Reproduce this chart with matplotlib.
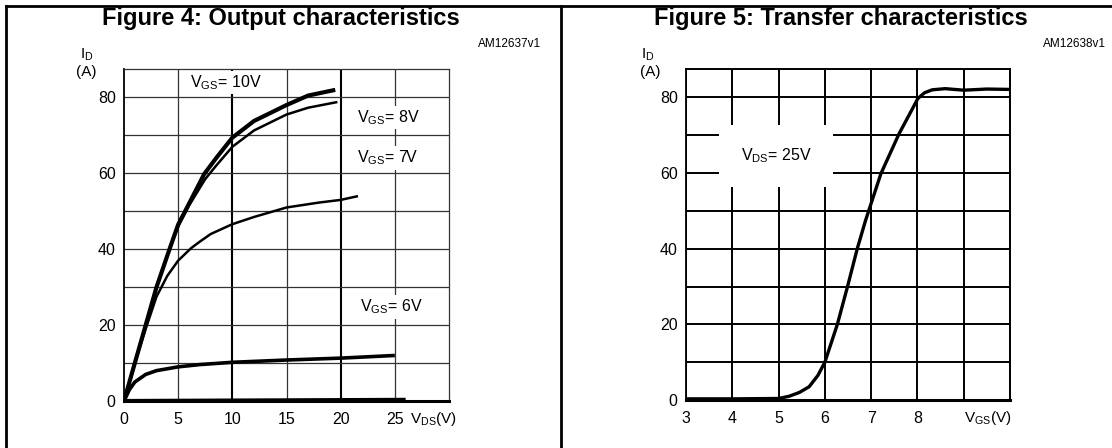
import numpy as np
import matplotlib
matplotlib.use("Agg")
import matplotlib.pyplot as plt
from matplotlib.lines import Line2D

plt.rcParams['font.family'] = ['Liberation Sans', 'DejaVu Sans']
plt.rcParams['mathtext.fontset'] = 'custom'
plt.rcParams['mathtext.rm'] = 'Liberation Sans'

# Figure 4: output characteristics, ID (A) against VDS (V)
vds_10 = [0, 1, 2, 3, 4.2, 5, 6, 7.4, 8.5, 10, 12, 15, 17, 19.5]
id_10 = [0, 10, 20, 30, 40, 46.5, 52, 59.8, 64, 69.4, 73.8, 78, 80.5, 82]
vds_8 = [0, 1, 2, 3, 4.2, 5, 6, 7.5, 8.5, 10, 12, 15, 17, 19.7]
id_8 = [0, 10, 20, 30, 40, 46, 51.5, 58.5, 62, 67, 71.3, 75.5, 77.3, 78.8]
vds_7 = [0, 1, 2, 3, 4, 5, 6.2, 7, 8, 10, 12, 15, 18, 20, 21.6]
id_7 = [0, 10, 19, 27.5, 33, 37, 40.3, 42, 44, 46.6, 48.5, 51, 52.3, 53, 54]
vds_6 = [0, 0.5, 1, 2, 3, 5, 7, 10, 15, 20, 25]
id_6 = [0, 3, 5, 7, 8, 9, 9.6, 10.2, 10.8, 11.3, 12]
vds_5 = [0, 26]
id_5 = [0, 0.3]

out_xticks = [0, 5, 10, 15, 20, 25]
out_labels = ["V$_{\\mathregular{GS}}$= 10V", "V$_{\\mathregular{GS}}$= 8V",
              "V$_{\\mathregular{GS}}$= 7V", "V$_{\\mathregular{GS}}$= 6V"]

# Figure 5: transfer characteristics, ID (A) against VGS (V) at VDS = 25 V
vgs = [3, 4, 5, 5.23, 5.45, 5.66, 5.85, 6.0, 6.27, 6.49, 6.7, 6.88, 7.21, 7.6,
       8.01, 8.15, 8.32, 8.6, 9.0, 9.5, 10]
id_t = [0.3, 0.3, 0.4, 1.0, 2.0, 3.5, 6.5, 10, 20, 30, 40, 47.5, 59.8, 70.3,
        79.7, 81.2, 82.0, 82.3, 81.9, 82.2, 82.1]
tr_xticks = [3, 4, 5, 6, 7, 8]

W, H = 1112, 448
fig = plt.figure(figsize=(W / 100, H / 100), dpi=100)

def fx(px):
    return px / W

def fy(py):
    return 1 - py / H

# table frame around the two figures
for seg in [((6, 1112), (6, 6)), ((6, 6), (6, 448)), ((561, 561), (6, 448))]:
    fig.add_artist(Line2D([fx(seg[0][0]), fx(seg[0][1])],
                          [fy(seg[1][0]), fy(seg[1][1])], color='black', lw=2.0))

fig.text(fx(281), fy(18), "Figure 4: Output characteristics", ha='center', va='center',
         fontsize=17, fontweight='bold')
fig.text(fx(841), fy(18), "Figure 5: Transfer characteristics", ha='center', va='center',
         fontsize=17, fontweight='bold')
fig.text(fx(541), fy(44), "AM12637v1", ha='right', va='center', fontsize=8.5)
fig.text(fx(1106), fy(44), "AM12638v1", ha='right', va='center', fontsize=8.5)

ax1 = fig.add_axes([fx(124), fy(401), 325 / W, 332 / H])
ax2 = fig.add_axes([fx(686), fy(400), 324 / W, 331 / H])

def style(ax, xlim, xmajor, gcol, glw):
    ax.set_xlim(*xlim)
    ax.set_ylim(0, 87.5)
    ax.set_xticks(xmajor)
    ax.set_yticks([0, 20, 40, 60, 80])
    ax.set_yticks(np.arange(10, 71, 20), minor=True)
    ax.grid(True, which='both', axis='y', color=gcol, lw=glw, zorder=0)
    ax.tick_params(which='both', length=0, labelsize=11.5)
    ax.tick_params(axis='y', pad=6)
    ax.tick_params(axis='x', pad=8)
    for s in ['top', 'right']:
        ax.spines[s].set_color(gcol)
        ax.spines[s].set_linewidth(glw)
    ax.spines['left'].set_linewidth(1.3)
    ax.spines['bottom'].set_linewidth(2.2)
    ax.set_axisbelow(True)

# left chart
style(ax1, (0, 30), [0, 5, 10, 15, 20, 25, 30], '#333333', 0.9)
for v in [5, 15, 25]:
    ax1.axvline(v, color='#333333', lw=0.9, zorder=0)
for v in [10, 20]:
    ax1.axvline(v, color='black', lw=1.5, zorder=0)
ax1.set_xticklabels([str(v) for v in out_xticks] + [""])
ax1.plot(vds_10, id_10, color='black', lw=3.0, solid_capstyle='butt', zorder=3)
ax1.plot(vds_8, id_8, color='black', lw=1.8, solid_capstyle='butt', zorder=3)
ax1.plot(vds_7, id_7, color='black', lw=1.8, solid_capstyle='butt', zorder=3)
ax1.plot(vds_6, id_6, color='black', lw=2.6, solid_capstyle='butt', zorder=3)
ax1.plot(vds_5, id_5, color='black', lw=3.0, solid_capstyle='butt', zorder=3)
box = dict(boxstyle='square,pad=0.15', fc='white', ec='none')
ax1.text(6.1, 83.9, out_labels[0], fontsize=11.5, va='center', bbox=box, zorder=2)
ax1.text(21.5, 74.7, out_labels[1], fontsize=11.5, va='center', bbox=box, zorder=2)
ax1.text(21.5, 64.1, out_labels[2], fontsize=11.5, va='center', bbox=box, zorder=2)
ax1.text(21.8, 24.8, out_labels[3], fontsize=11.5, va='center', bbox=box, zorder=2)
ax1.text(26.4, -2.3, "V$_{\\mathregular{DS}}$(V)", fontsize=11, ha='left', va='top')
ax1.text(-4.1, 91.3, "I$_{\\mathregular{D}}$", fontsize=11, ha='left', va='center')
ax1.text(-2.5, 86.8, "(A)", fontsize=11, ha='right', va='center')

# right chart
style(ax2, (3, 10), [3, 4, 5, 6, 7, 8, 9, 10], 'black', 1.4)
ax2.grid(True, which='major', axis='x', color='black', lw=1.4, zorder=0)
ax2.set_xticklabels([str(v) for v in tr_xticks] + ["", ""])
ax2.plot(vgs, id_t, color='black', lw=2.4, zorder=3)
ax2.text(4.95, 64.6, "V$_{\\mathregular{DS}}$= 25V", fontsize=11.5, ha='center',
         va='center', bbox=dict(boxstyle='square,pad=1.35', fc='white', ec='none'), zorder=2)
ax2.text(9.53, -2.3, "V$_{\\mathregular{GS}}$(V)", fontsize=11, ha='center', va='top')
ax2.text(2.03, 91.3, "I$_{\\mathregular{D}}$", fontsize=11, ha='left', va='center')
ax2.text(2.44, 86.8, "(A)", fontsize=11, ha='right', va='center')

fig.savefig("out.png", dpi=100)
